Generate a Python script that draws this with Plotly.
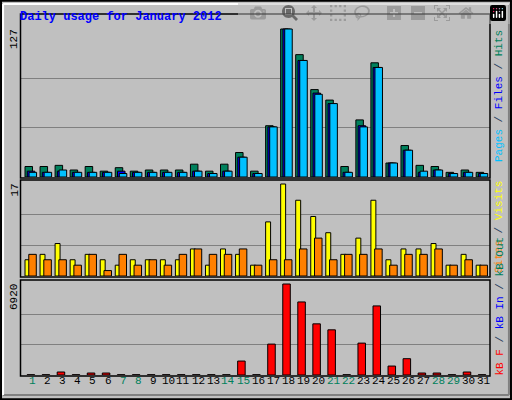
import plotly.graph_objects as go
from plotly.subplots import make_subplots

days = list(range(1, 32))
hits = [9, 9, 10, 6, 9, 5, 8, 5, 6, 6, 6, 11, 5, 11, 21, 5, 44, 127, 105, 75, 66, 9, 49, 98, 12, 27, 10, 9, 4, 6, 4]
files = [5, 4, 5, 4, 4, 4, 5, 4, 4, 4, 4, 5, 3, 5, 17, 3, 43, 127, 100, 72, 63, 4, 44, 94, 12, 23, 4, 6, 3, 4, 3]
pages = [4, 4, 6, 4, 4, 4, 3, 4, 4, 4, 4, 5, 3, 5, 17, 3, 43, 127, 100, 71, 63, 4, 43, 94, 12, 23, 5, 6, 3, 4, 3]
visits = [3, 4, 6, 3, 4, 3, 2, 3, 3, 3, 3, 5, 2, 5, 4, 2, 10, 17, 14, 11, 8, 4, 7, 14, 3, 5, 5, 6, 2, 4, 2]
sites = [4, 3, 3, 2, 4, 1, 4, 2, 3, 2, 4, 5, 4, 4, 5, 2, 3, 3, 5, 7, 3, 4, 4, 5, 2, 4, 4, 5, 2, 3, 2]
kbytes = [20, 20, 227, 20, 150, 150, 20, 20, 20, 20, 20, 20, 20, 20, 1060, 20, 2350, 6920, 5556, 3890,
          3435, 20, 2425, 5253, 680, 1240, 150, 150, 20, 227, 20]
weekend = [1, 7, 8, 14, 15, 21, 22, 28, 29]
max_hits, max_visits, max_kb = 127, 17, 6920

W, H = 512, 400
FONT = "Liberation Mono"


def fy(px):
    return 1 - px / H


fig = make_subplots(rows=3, cols=1)
line = dict(color="black", width=1)
fig.add_trace(go.Bar(x=days, y=hits, offset=-0.52, width=0.5, marker=dict(color="#00805C", line=line)), 1, 1)
fig.add_trace(go.Bar(x=days, y=files, offset=-0.37, width=0.5, marker=dict(color="#0000FF", line=line)), 1, 1)
fig.add_trace(go.Bar(x=days, y=pages, offset=-0.25, width=0.5, marker=dict(color="#00C0FF", line=line)), 1, 1)
fig.add_trace(go.Bar(x=days, y=visits, offset=-0.52, width=0.33, marker=dict(color="#FFFF00", line=line)), 2, 1)
fig.add_trace(go.Bar(x=days, y=sites, offset=-0.27, width=0.5, marker=dict(color="#FF8000", line=line)), 2, 1)
fig.add_trace(go.Bar(x=days, y=kbytes, offset=-0.38, width=0.5, marker=dict(color="#FF0000", line=line)), 3, 1)

xdom = [20.5 / W, 490 / W]
xr = [0.18, 31.4]
panels = [  # (box top px, base px, value-top px, max)
    (14, 177, 29, max_hits),
    (180, 276, 184, max_visits),
    (280, 375, 284, max_kb),
]
for i, (top, base, vtop, mx) in enumerate(panels, start=1):
    rng = mx * (base - top) / (base - vtop)
    fig.update_yaxes(row=i, col=1, domain=[fy(base), fy(top)], range=[0, rng],
                     tickvals=[mx / 3, 2 * mx / 3], showticklabels=False,
                     gridcolor="#808080", gridwidth=1, zeroline=False, ticks="")
    fig.update_xaxes(row=i, col=1, domain=xdom, range=xr, showgrid=False, zeroline=False,
                     showticklabels=False, ticks="")
    fig.add_shape(type="rect", xref="paper", yref="paper", x0=xdom[0], x1=xdom[1],
                  y0=fy(base + 1), y1=fy(top), line=dict(color="black", width=1.5))
    fig.add_annotation(text=str(mx), xref="paper", yref="paper", x=14 / W, y=fy(vtop - 2),
                       textangle=-90, showarrow=False, xanchor="center", yanchor="top",
                       font=dict(family=FONT, size=11, color="black"))

for d in days:
    fig.add_annotation(text=str(d), xref="x3", yref="paper", x=d, y=fy(389), showarrow=False,
                       font=dict(family=FONT, size=11, color="#00805C" if d in weekend else "black"))

# outer frame
fig.add_shape(type="rect", xref="paper", yref="paper", x0=0.002, x1=0.998, y0=0.002, y1=0.998,
              line=dict(color="black", width=2))
fig.add_shape(type="line", xref="paper", yref="paper", x0=0.006, x1=0.994, y0=fy(395), y1=fy(395),
              line=dict(color="#808080", width=2))
fig.add_shape(type="line", xref="paper", yref="paper", x0=0.994, x1=0.994, y0=fy(395), y1=fy(4),
              line=dict(color="#808080", width=2))
fig.add_shape(type="line", xref="paper", yref="paper", x0=0.006, x1=0.994, y0=fy(4), y1=fy(4),
              line=dict(color="white", width=2))
fig.add_shape(type="line", xref="paper", yref="paper", x0=0.006, x1=0.006, y0=fy(395), y1=fy(4),
              line=dict(color="white", width=2))

fig.add_annotation(text="<b>Daily usage for January 2012</b>", xref="paper", yref="paper",
                   x=18 / W, y=fy(8), xanchor="left", yanchor="top", showarrow=False,
                   font=dict(family=FONT, size=12, color="#0000FF"))

leg = dict(xref="paper", yref="paper", x=499 / W, textangle=-90, showarrow=False,
           xanchor="center", font=dict(family=FONT, size=11))
fig.add_annotation(text="<span style='color:#00C0FF'>Pages</span> / "
                        "<span style='color:#0000FF'>Files</span> / "
                        "<span style='color:#00805C'>Hits</span>", y=fy(96), yanchor="middle", **leg)
fig.add_annotation(text="<span style='color:#FF8000'>Sites</span> / "
                        "<span style='color:#FFFF00'>Visits</span>", y=fy(179), yanchor="top", **leg)
fig.add_annotation(text="<span style='color:#FF0000'>kB F</span> / "
                        "<span style='color:#0000FF'>kB In</span> / "
                        "<span style='color:#00805C'>kB Out</span>", y=fy(378), yanchor="bottom", **leg)

fig.update_layout(width=W, height=H, margin=dict(l=0, r=0, t=0, b=0), showlegend=False,
                  barmode="overlay", paper_bgcolor="#C0C0C0", plot_bgcolor="#C0C0C0")
fig.write_html("out.html")

# drop the default body margin so the chart fills the window
with open("out.html") as f:
    html = f.read()
html = html.replace("<head>", "<head><style>body{margin:0;overflow:hidden}</style>", 1)
with open("out.html", "w") as f:
    f.write(html)
